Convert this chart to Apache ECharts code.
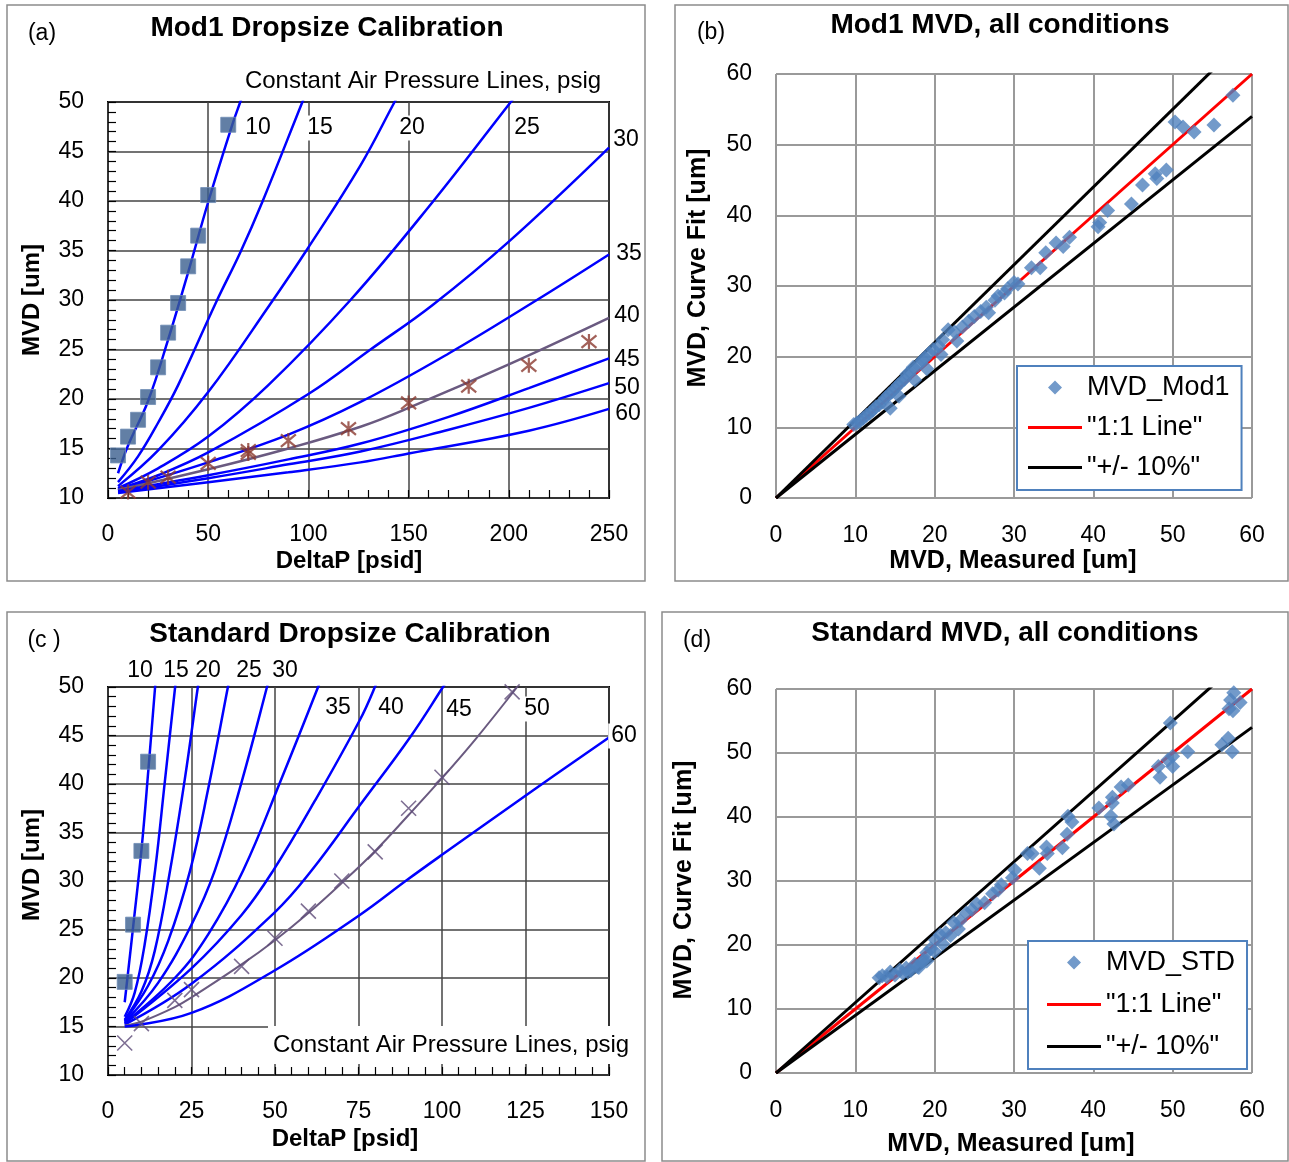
<!DOCTYPE html>
<html><head><meta charset="utf-8">
<script src="https://cdn.jsdelivr.net/npm/echarts/dist/echarts.min.js"></script>
<style>html,body{margin:0;padding:0;background:#fff}#c{width:1289px;height:1162px}</style>
</head><body><div id="c"></div><script>
// ---------- Panel (a): Mod1 dropsize calibration (DeltaP psid, MVD um) ----------
const A_SQUARES = [[5,14.3],[10,16.2],[15,17.9],[20,20.2],[25,23.2],[30,26.7],[35,29.7],[40,33.4],[45,36.5],[50,40.6],[60,47.7]];
const A_STARS = [[10,10.6],[20,11.6],[30,12.1],[50,13.5],[70,14.5],[70,14.8],[90,15.8],[120,17.0],[150,19.6],[180,21.3],[210,23.4],[240,25.8]];
const A_P10 = [[5,12.5],[10,15.3],[20,19.8],[30,26.0],[40,32.8],[50,39.9],[62,47.7],[66,50],[70,52.3]];
const A_P15 = [[5,11.6],[15,14.2],[25,17.6],[35,21.4],[54,29.8],[66,34.8],[77,39.9],[97,50],[100,51.5]];
const A_P20 = [[5,11.2],[25,14.8],[50,20.7],[81,29.6],[99,35.0],[126,43.6],[143,50],[150,52.6]];
const A_P25 = [[5,11.0],[25,13.0],[50,16.2],[80,21.4],[121,30],[162,39.9],[201,50],[210,52.3]];
const A_P30 = [[5,10.9],[25,12.3],[50,14.6],[100,20.5],[131,25],[162,29.5],[200,35.9],[250,45.4]];
const A_P35 = [[5,10.8],[50,13.6],[90,16.4],[126,19.7],[170,24.6],[214,30],[250,34.6]];
const A_P40 = [[5,10.8],[50,12.9],[90,15.0],[126,17.2],[150,19.1],[200,23.5],[250,28.2]];
const A_P45 = [[5,10.7],[50,12.3],[90,13.9],[126,15.5],[170,18.2],[210,21.1],[250,24.1]];
const A_P50 = [[5,10.6],[50,12.0],[90,13.4],[126,14.7],[170,16.9],[210,19.1],[250,21.6]];
const A_P60 = [[5,10.5],[50,11.6],[90,12.6],[126,13.6],[150,14.5],[210,16.8],[250,19.0]];

// ---------- Panel (b): Mod1 MVD, curve fit vs measured ----------
const B_POINTS = [[57.6,57.0],[50.3,53.2],[51.3,52.5],[52.7,51.8],[55.2,52.8],[49.2,46.4],[47.8,45.9],[48.0,45.2],[46.2,44.3],
 [44.8,41.6],[41.8,40.7],[40.8,39.0],[40.6,38.4],[37.0,36.9],[36.2,35.6],[35.3,36.1],[34.0,34.7],[33.3,32.6],[32.2,32.6],
 [30.0,30.5],[29.2,29.6],[28.0,28.6],[27.6,28.0],[26.5,27.0],[25.8,26.4],[25.0,25.7],[24.3,25.0],[23.5,24.2],[22.5,23.5],
 [21.7,23.8],[21.0,22.4],[20.5,21.5],[19.8,21.0],[19.3,20.5],[18.8,19.8],[18.4,19.5],[17.9,18.8],[17.3,18.5],[16.9,17.8],
 [16.5,17.5],[16.2,16.8],[15.8,16.4],[15.4,16.0],[15.0,15.5],[14.6,15.0],[14.2,14.6],[13.8,14.2],[13.4,13.6],[13.0,13.2],
 [12.6,12.9],[12.2,12.4],[11.8,12.0],[11.4,11.7],[11.0,11.3],[10.6,10.9],[10.2,10.6],[9.8,10.4],[14.4,12.7],[15.5,14.4],
 [17.5,16.7],[19.0,18.3],[20.8,20.3],[22.8,22.2],[26.8,26.2],[28.8,29.0],[30.5,30.3]];

// ---------- Panel (c): Standard dropsize calibration ----------
const C_SQUARES = [[5,19.6],[7.5,25.5],[10,33.1],[12,42.3]];
const C_CROSSES = [[5,13.3],[10,15.3],[20,17.7],[25,18.8],[40,21.2],[50,24.1],[60,26.9],[70,30.0],[80,33.0],[90,37.5],[100,40.7],[121,49.5]];
const C_P10 = [[5,17.5],[7.6,25.5],[10.1,33.5],[12.1,41.5],[14.1,50],[14.6,52]];
const C_P15 = [[5,16.0],[8,18.5],[11,23.5],[14.1,31.1],[17,40.2],[20.1,50],[20.8,52]];
const C_P20 = [[5,15.7],[10,18.6],[14,22.8],[18.6,31.1],[23,40.5],[26.9,50],[27.8,52]];
const C_P25 = [[5,15.6],[12,19.2],[18,23.8],[24.6,31.1],[30,39.5],[35.9,50],[37,52]];
const C_P30 = [[5,15.5],[15,19.5],[25,25.5],[32,31.1],[40,40.2],[47.6,50],[49,52]];
const C_P35 = [[5,15.4],[20,20.0],[30,24.5],[40.5,31.1],[52,40.6],[62.9,50],[65,52]];
const C_P40 = [[5,15.3],[25,21.0],[40,26.5],[49.5,31.1],[62,38.3],[75.4,46.6],[79.9,50],[82,52]];
const C_P45 = [[5,15.2],[25,19.4],[50,26.8],[61,31.1],[75.4,37.8],[90.4,44.8],[100.3,50],[104,52]];
const C_P50 = [[5,15.1],[10,15.5],[20,17.0],[25,18.0],[40,21.4],[50,23.9],[60,26.7],[70,29.8],[80,33.1],[90,36.8],[100,40.6],[110,44.6],[122.5,50]];
const C_P60 = [[5,15.0],[25,16.4],[50,20.8],[75.4,26.5],[89.5,30.1],[100,32.7],[125.4,38.9],[150,44.8]];

// ---------- Panel (d): Standard MVD, curve fit vs measured ----------
const D_POINTS = [[57.7,59.4],[58.5,57.9],[57.3,58.3],[57.1,56.9],[57.6,56.6],[49.7,54.7],[57.0,52.3],[56.2,51.3],[57.5,50.2],
 [51.9,50.2],[50.0,49.5],[49.4,48.9],[50.0,47.9],[48.2,47.9],[48.4,46.2],[44.4,45.0],[43.5,44.7],[42.4,43.1],[42.4,42.2],
 [40.7,41.4],[42.2,40.1],[42.6,38.9],[36.8,40.1],[37.3,39.2],[36.7,37.3],[36.1,35.2],[34.1,35.3],[34.2,34.3],[33.2,32.0],
 [32.3,34.3],[31.7,34.3],[30.1,31.7],[29.8,30.5],[28.4,29.4],[28.0,28.6],[27.3,28.0],[26.3,26.6],[25.3,26.4],[24.7,25.5],
 [24.0,25.0],[23.2,23.8],[22.4,23.5],[21.4,21.9],[20.7,21.6],[20.1,20.8],[19.5,19.4],[19.0,18.8],[18.6,17.6],[17.5,17.0],
 [16.4,16.4],[15.6,16.1],[14.4,15.8],[13.4,15.2],[13.0,14.9],[14.0,15.0],[15.0,15.3],[16.0,15.6],[17.0,16.0],[18.0,16.5],
 [19.0,17.5],[20.0,19.0],[21.0,20.2],[22.0,21.5],[23.0,22.5],[17.8,16.6],[18.4,17.4],[16.6,15.8]];

// reference lines for (b) and (d)
const LINE_1TO1 = [[0,0],[60,60]];
const LINE_PLUS10 = [[0,0],[60,66]];
const LINE_MINUS10 = [[0,0],[60,54]];

const FONT = '"Liberation Sans", Arial, sans-serif';
const BLUE = '#0000FF', PURPLE = '#6A5A80';

function curve(idx, name, data, color, width){
  return {name, type:'line', xAxisIndex:idx, yAxisIndex:idx, data, smooth:0.4,
    symbol:'none', showSymbol:false, lineStyle:{color, width}, silent:true, z:3, clip:true};
}
function refLine(idx, name, data, color){
  return {name, type:'line', xAxisIndex:idx, yAxisIndex:idx, data, symbol:'none', showSymbol:false,
    lineStyle:{color, width:3}, itemStyle:{color}, silent:true, z:3, clip:true};
}
function calAxisX(grid, min, max, interval){
  return {gridIndex:grid, type:'value', min, max, interval,
    axisLine:{show:false},
    axisTick:{show:true, inside:true, length:8, lineStyle:{color:'#000', width:1.2}},
    minorTick:{show:true, splitNumber:5, length:8, lineStyle:{color:'#000', width:1.2}},
    axisLabel:{margin:25, fontSize:23, color:'#000', fontFamily:FONT},
    splitLine:{show:true, lineStyle:{color:'#444', width:1.5}}};
}
function calAxisY(grid){
  return {gridIndex:grid, type:'value', min:10, max:50, interval:5,
    axisLine:{show:false},
    axisTick:{show:true, inside:true, length:8, lineStyle:{color:'#000', width:1.2}},
    minorTick:{show:true, splitNumber:5, length:8, lineStyle:{color:'#000', width:1.2}},
    axisLabel:{margin:24, fontSize:23, color:'#000', fontFamily:FONT},
    splitLine:{show:true, lineStyle:{color:'#444', width:1.5}}};
}
function mvdAxis(grid, margin){
  return {gridIndex:grid, type:'value', min:0, max:60, interval:10,
    axisLine:{show:false}, axisTick:{show:false},
    axisLabel:{margin:margin, fontSize:23, color:'#000', fontFamily:FONT},
    splitLine:{show:true, lineStyle:{color:'#9a9a9a', width:2}}};
}
function txt(x, y, text, size, opts){
  opts = opts || {};
  const st = {text, font:(opts.bold?'bold ':'')+size+'px '+FONT, fill:'#000',
    align:opts.align||'center', textAlign:opts.align||'center',
    verticalAlign:'middle', textVerticalAlign:'middle'};
  if (opts.bg){ st.backgroundColor = '#fff'; st.padding = opts.pad || [1,3]; }
  return {type:'text', x, y, rotation:opts.rot||0, z:100, silent:true, style:st};
}
function frame(x, y, w, h){
  return {type:'rect', shape:{x, y, width:w, height:h}, z:-1, silent:true,
    style:{fill:'none', stroke:'#8c8c8c', lineWidth:1.5}};
}

const graphic = [
  frame(7,5,638,576), frame(675,5,613,576), frame(7,612,638,549), frame(662,612,626,549),
  txt(327,28,'Mod1 Dropsize Calibration',28,{bold:true}), txt(42,34,'(a)',23),
  txt(1000,25,'Mod1 MVD, all conditions',28,{bold:true}), txt(711,33,'(b)',23),
  txt(350,634,'Standard Dropsize Calibration',28,{bold:true}), txt(44,641,'(c )',23),
  txt(1005,633,'Standard MVD, all conditions',28,{bold:true}), txt(697,641,'(d)',23),
  txt(349,561,'DeltaP [psid]',24,{bold:true}), txt(32,300,'MVD [um]',24,{bold:true, rot:Math.PI/2}),
  txt(1013,561,'MVD, Measured [um]',25,{bold:true}), txt(698,268,'MVD, Curve Fit [um]',25,{bold:true, rot:Math.PI/2}),
  txt(345,1139,'DeltaP [psid]',24,{bold:true}), txt(32,865,'MVD [um]',24,{bold:true, rot:Math.PI/2}),
  txt(1011,1144,'MVD, Measured [um]',25,{bold:true}), txt(684,880,'MVD, Curve Fit [um]',25,{bold:true, rot:Math.PI/2}),
  // panel (a) pressure labels
  txt(423,81,'Constant Air Pressure Lines, psig',24),
  txt(258,128,'10',23,{bg:true}), txt(320,128,'15',23,{bg:true}), txt(412,128,'20',23,{bg:true}), txt(527,128,'25',23,{bg:true}),
  txt(626,140,'30',23), txt(629,254,'35',23), txt(627,316,'40',23), txt(627,360,'45',23), txt(627,388,'50',23), txt(628,414,'60',23),
  // panel (c) pressure labels
  txt(140,671,'10',23), txt(176,671,'15',23), txt(208,671,'20',23), txt(249,671,'25',23), txt(285,671,'30',23),
  txt(338,708,'35',23,{bg:true}), txt(391,708,'40',23,{bg:true}), txt(459,710,'45',23,{bg:true}), txt(537,709,'50',23,{bg:true}),
  txt(624,736,'60',23,{bg:true}),
  txt(268,1045,'Constant Air Pressure Lines, psig',24,{align:'left', bg:true, pad:[7,14,7,5]})
];

const LINE_ICON = 'path://M0,0H54V3H0Z';
const DIAMOND_ICON = 'path://M0,7L0.01,7M27,0L34,7L27,14L20,7ZM54,7L53.99,7';
const legendCommon = {orient:'vertical', itemWidth:54, itemHeight:15, itemGap:13, selectedMode:false,
  symbolKeepAspect:true,
  borderColor:'#4F81BD', borderWidth:2, backgroundColor:'#fff',
  textStyle:{fontSize:27, color:'#000', fontFamily:FONT}};

const option = {
  animation:false,
  backgroundColor:'#fff',
  graphic,
  grid:[
    {left:108, top:102, width:501, height:396, show:true, borderColor:'#000', borderWidth:2, backgroundColor:'transparent'},
    {left:776, top:74, width:476, height:424},
    {left:108, top:687, width:501, height:388, show:true, borderColor:'#000', borderWidth:2, backgroundColor:'transparent'},
    {left:776, top:689, width:476, height:384}
  ],
  xAxis:[calAxisX(0,0,250,50), mvdAxis(1,26), calAxisX(2,0,150,25), mvdAxis(3,26)],
  yAxis:[calAxisY(0), mvdAxis(1,24), calAxisY(2), mvdAxis(3,24)],
  legend:[
    Object.assign({}, legendCommon, {left:1017, top:366, padding:[8,12,9,11],
      data:[{name:'MVD_Mod1', icon:DIAMOND_ICON}, {name:'"1:1 Line"', icon:LINE_ICON}, {name:'"+/- 10%"', icon:LINE_ICON}]}),
    Object.assign({}, legendCommon, {left:1028, top:941, padding:[8,12,9,19], itemGap:15,
      data:[{name:'MVD_STD', icon:DIAMOND_ICON}, {name:'"1:1 Line"', icon:LINE_ICON}, {name:'"+/- 10%"', icon:LINE_ICON}]})
  ],
  series:[
    curve(0,'a10',A_P10,BLUE,2.5), curve(0,'a15',A_P15,BLUE,2.5), curve(0,'a20',A_P20,BLUE,2.5),
    curve(0,'a25',A_P25,BLUE,2.5), curve(0,'a30',A_P30,BLUE,2.5), curve(0,'a35',A_P35,BLUE,2.5),
    curve(0,'a40',A_P40,PURPLE,2.5), curve(0,'a45',A_P45,BLUE,2.5), curve(0,'a50',A_P50,BLUE,2.5),
    curve(0,'a60',A_P60,BLUE,2.5),
    {name:'a squares', type:'scatter', xAxisIndex:0, yAxisIndex:0, data:A_SQUARES, symbol:'rect', symbolSize:15,
      itemStyle:{color:'#3B5F8E', borderColor:'#6F8DB5', borderWidth:1}, z:5, silent:true},
    {name:'a stars', type:'scatter', xAxisIndex:0, yAxisIndex:0, data:A_STARS,
      symbol:'path://M0,0L10,10M10,0L0,10M5,-1L5,11', symbolSize:15,
      itemStyle:{color:'none', borderColor:'#8B3A30', borderWidth:2.2}, z:5, silent:true},

    refLine(1,'"1:1 Line"',LINE_1TO1,'#FF0000'),
    refLine(1,'"+/- 10%"',LINE_PLUS10,'#000000'),
    refLine(1,'"+/- 10%"',LINE_MINUS10,'#000000'),
    {name:'MVD_Mod1', type:'scatter', xAxisIndex:1, yAxisIndex:1, data:B_POINTS, symbol:'diamond', symbolSize:15,
      itemStyle:{color:'#4F81BD'}, z:6, silent:true},

    curve(2,'c10',C_P10,BLUE,2.5), curve(2,'c15',C_P15,BLUE,2.5), curve(2,'c20',C_P20,BLUE,2.5),
    curve(2,'c25',C_P25,BLUE,2.5), curve(2,'c30',C_P30,BLUE,2.5), curve(2,'c35',C_P35,BLUE,2.5),
    curve(2,'c40',C_P40,BLUE,2.5), curve(2,'c45',C_P45,BLUE,2.5), curve(2,'c50',C_P50,PURPLE,2),
    curve(2,'c60',C_P60,BLUE,2.5),
    {name:'c squares', type:'scatter', xAxisIndex:2, yAxisIndex:2, data:C_SQUARES, symbol:'rect', symbolSize:15,
      itemStyle:{color:'#3B5F8E', borderColor:'#6F8DB5', borderWidth:1}, z:5, silent:true},
    {name:'c crosses', type:'scatter', xAxisIndex:2, yAxisIndex:2, data:C_CROSSES,
      symbol:'path://M0,0L10,10M10,0L0,10', symbolSize:15,
      itemStyle:{color:'none', borderColor:'#5E4B78', borderWidth:1.6}, z:5, silent:true},

    refLine(3,'"1:1 Line"',LINE_1TO1,'#FF0000'),
    refLine(3,'"+/- 10%"',LINE_PLUS10,'#000000'),
    refLine(3,'"+/- 10%"',LINE_MINUS10,'#000000'),
    {name:'MVD_STD', type:'scatter', xAxisIndex:3, yAxisIndex:3, data:D_POINTS, symbol:'diamond', symbolSize:15,
      itemStyle:{color:'#4F81BD'}, z:6, silent:true}
  ]
};
const chart = echarts.init(document.getElementById('c'));
chart.setOption(option);
</script></body></html>
